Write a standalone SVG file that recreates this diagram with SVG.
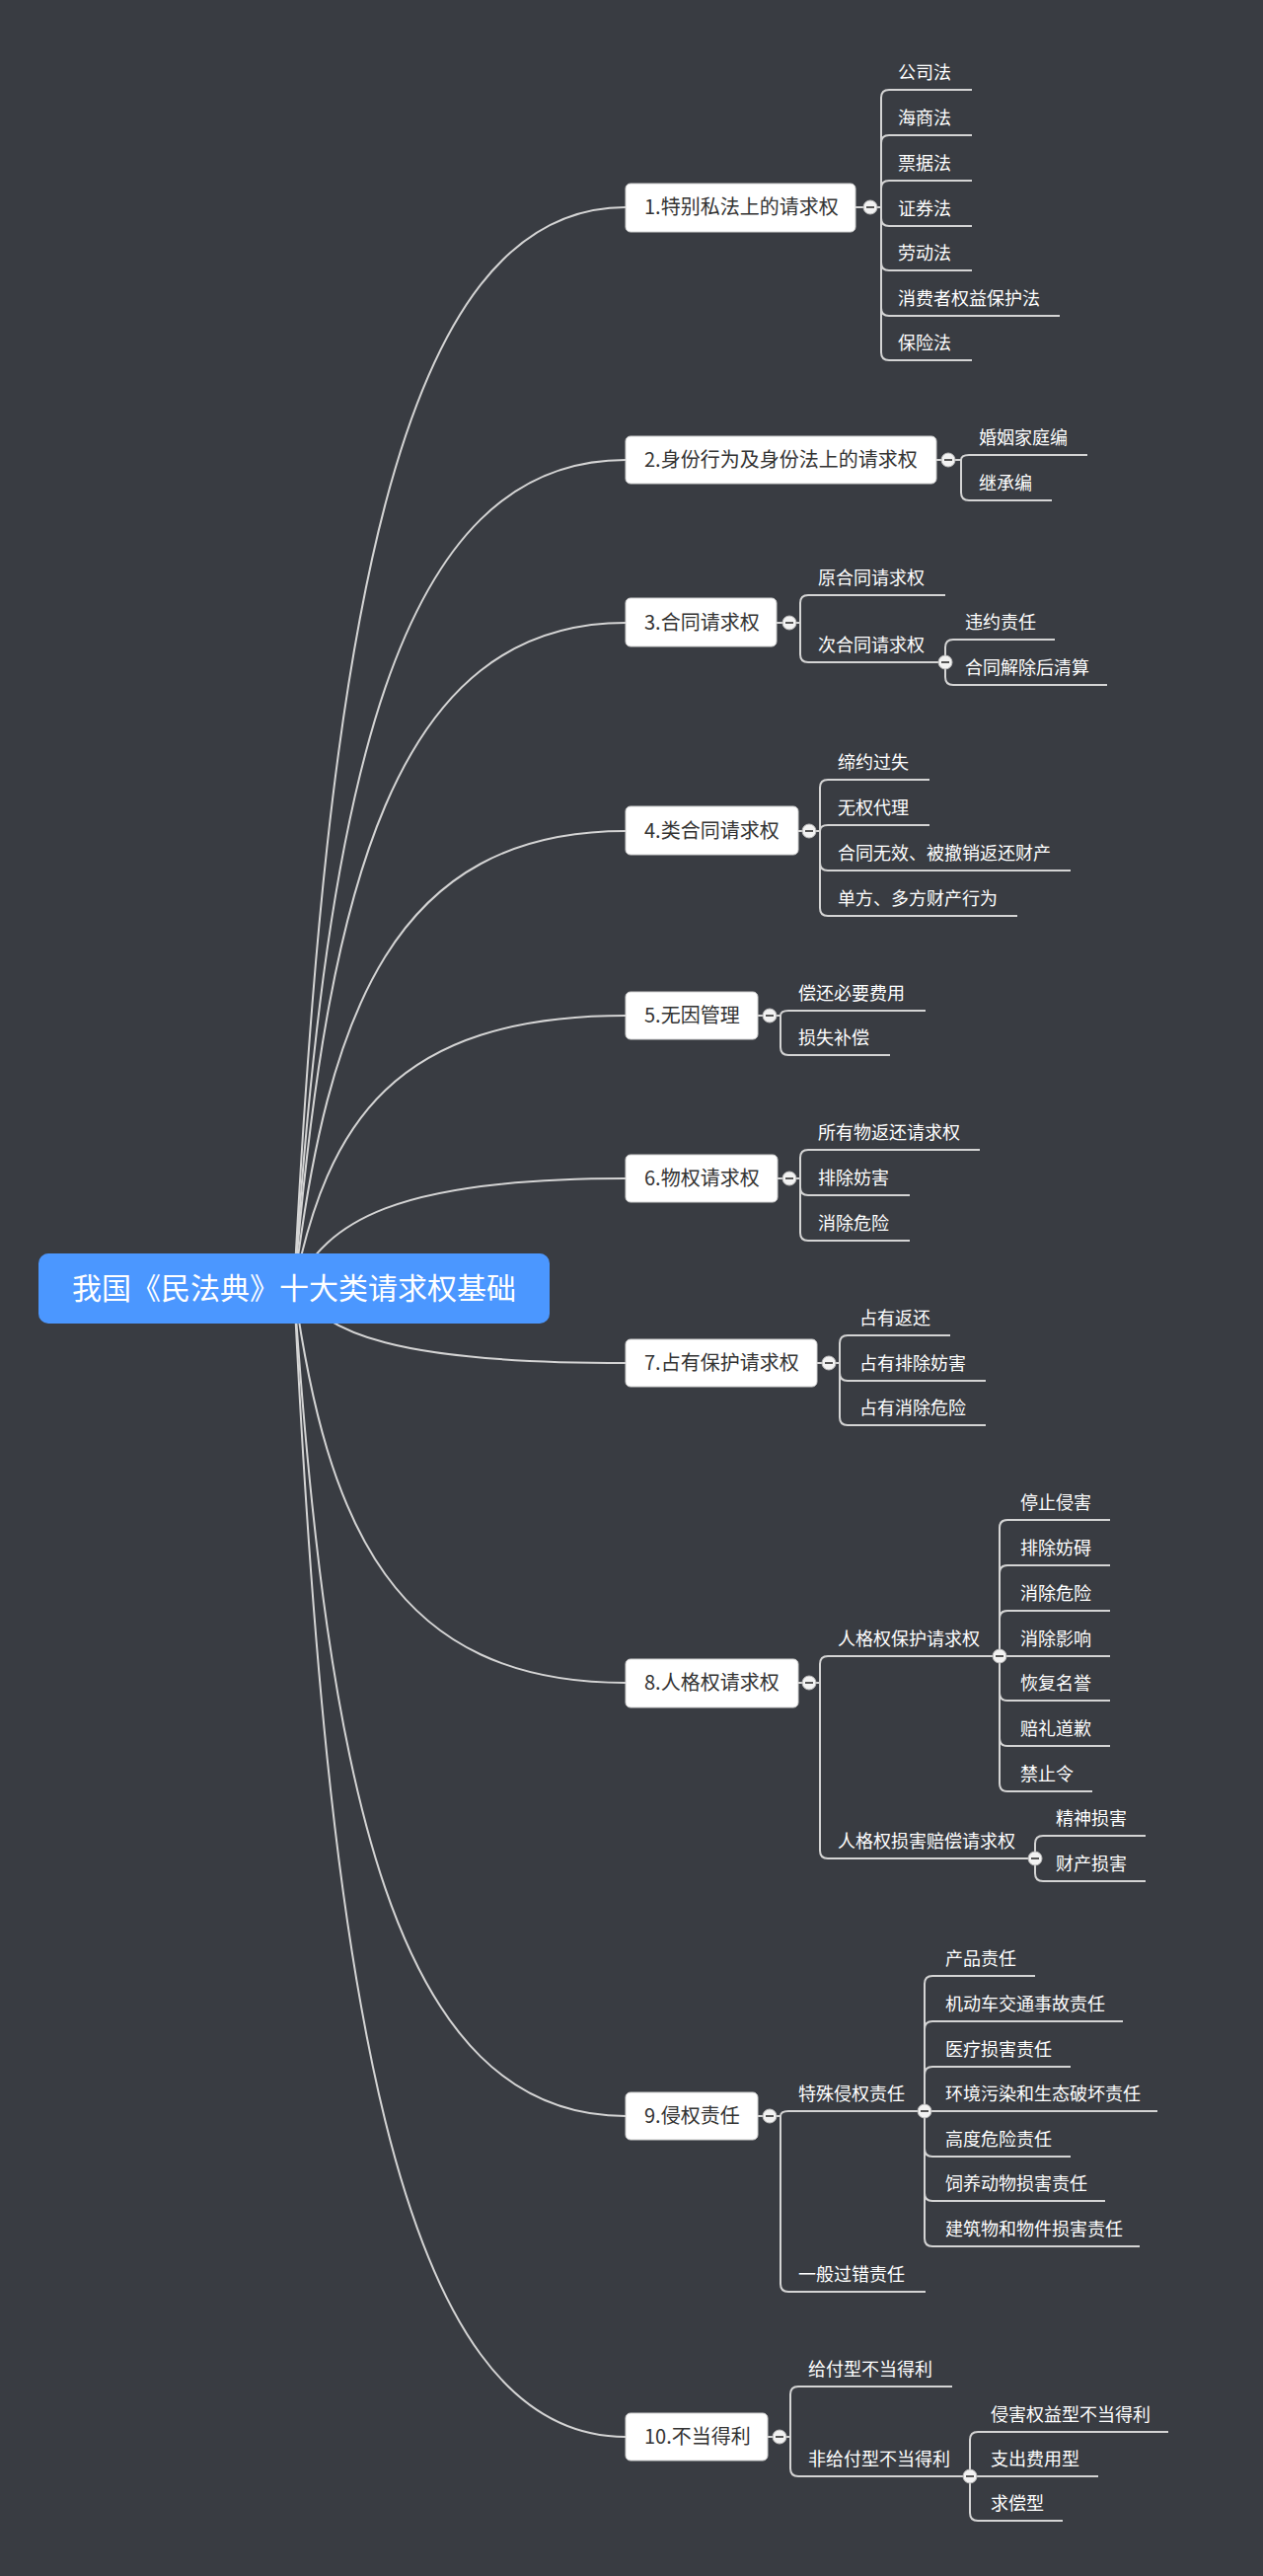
<svg xmlns="http://www.w3.org/2000/svg" width="1280" height="2610" viewBox="0 0 1280 2610">
<style>
.bg{fill:#393c42}
.c{fill:none;stroke:#d4d4d4;stroke-width:2}
.n rect{fill:#fff;stroke:#d0d0d0;stroke-width:1}
.n text{font-family:"Noto Sans CJK SC","Noto Sans",sans-serif;font-size:20px;fill:#333}
.l{font-family:"Noto Sans CJK SC","Noto Sans",sans-serif;font-size:18px;fill:#fff}
.k circle{fill:#f2f2f2;stroke:#bbb;stroke-width:1}
.k line{stroke:#555;stroke-width:2}
</style>
<rect class="bg" x="0" y="0" width="1280" height="2610"/>
<g id="connectors" class="c">
<path d="M298,1305 C331.6,648 398.8,210 634,210"/>
<path d="M298,1305 C331.6,802 398.8,466 634,466"/>
<path d="M298,1305 C331.6,901 398.8,631 634,631"/>
<path d="M298,1305 C331.6,1027 398.8,842 634,842"/>
<path d="M298,1305 C331.6,1139 398.8,1029 634,1029"/>
<path d="M298,1305 C331.6,1238 398.8,1194 634,1194"/>
<path d="M298,1305 C331.6,1351 398.8,1381 634,1381"/>
<path d="M298,1305 C331.6,1545 398.8,1705 634,1705"/>
<path d="M298,1305 C331.6,1808 398.8,2144 634,2144"/>
<path d="M298,1305 C331.6,2003 398.8,2469 634,2469"/>
<!-- 1 -->
<path d="M867,210 H893"/>
<path d="M893,210 V99 Q893,91 901,91 H985"/>
<path d="M893,210 V145 Q893,137 901,137 H985"/>
<path d="M893,210 V191 Q893,183 901,183 H985"/>
<path d="M893,210 V221 Q893,229 901,229 H985"/>
<path d="M893,210 V266 Q893,274 901,274 H985"/>
<path d="M893,210 V312 Q893,320 901,320 H1074"/>
<path d="M893,210 V357 Q893,365 901,365 H985"/>
<!-- 2 -->
<path d="M949,466 H974"/>
<path d="M974,466 Q974,461 982,461 H1102"/>
<path d="M974,466 V499 Q974,507 982,507 H1066"/>
<!-- 3 -->
<path d="M787,631 H811"/>
<path d="M811,631 V611 Q811,603 819,603 H958"/>
<path d="M811,631 V663 Q811,671 819,671 H951"/>
<path d="M958,671 V656 Q958,648 966,648 H1069"/>
<path d="M958,671 V686 Q958,694 966,694 H1122"/>
<!-- 4 -->
<path d="M809,842 H831"/>
<path d="M831,842 V798 Q831,790 839,790 H942"/>
<path d="M831,842 Q831,836 839,836 H942"/>
<path d="M831,842 V874 Q831,882 839,882 H1085"/>
<path d="M831,842 V920 Q831,928 839,928 H1031"/>
<!-- 5 -->
<path d="M768,1029 H791"/>
<path d="M791,1029 Q791,1024 799,1024 H938"/>
<path d="M791,1029 V1061 Q791,1069 799,1069 H902"/>
<!-- 6 -->
<path d="M788,1194 H811"/>
<path d="M811,1194 V1173 Q811,1165 819,1165 H993"/>
<path d="M811,1194 V1203 Q811,1211 819,1211 H922"/>
<path d="M811,1194 V1249 Q811,1257 819,1257 H922"/>
<!-- 7 -->
<path d="M828,1381 H851"/>
<path d="M851,1381 V1361 Q851,1353 859,1353 H963"/>
<path d="M851,1381 V1391 Q851,1399 859,1399 H999"/>
<path d="M851,1381 V1436 Q851,1444 859,1444 H999"/>
<!-- 8 -->
<path d="M809,1705 H831"/>
<path d="M831,1705 V1686 Q831,1678 839,1678 H1006"/>
<path d="M831,1705 V1875 Q831,1883 839,1883 H1042"/>
<path d="M1013,1678 V1548 Q1013,1540 1021,1540 H1125"/>
<path d="M1013,1678 V1594 Q1013,1586 1021,1586 H1125"/>
<path d="M1013,1678 V1640 Q1013,1632 1021,1632 H1125"/>
<path d="M1020,1678 H1125"/>
<path d="M1013,1678 V1715 Q1013,1723 1021,1723 H1125"/>
<path d="M1013,1678 V1761 Q1013,1769 1021,1769 H1125"/>
<path d="M1013,1678 V1807 Q1013,1815 1021,1815 H1107"/>
<path d="M1049,1883 V1868 Q1049,1860 1057,1860 H1161"/>
<path d="M1049,1883 V1898 Q1049,1906 1057,1906 H1161"/>
<!-- 9 -->
<path d="M768,2144 H791"/>
<path d="M791,2144 Q791,2139 799,2139 H930"/>
<path d="M791,2144 V2314 Q791,2322 799,2322 H938"/>
<path d="M937,2139 V2010 Q937,2002 945,2002 H1049"/>
<path d="M937,2139 V2056 Q937,2048 945,2048 H1138"/>
<path d="M937,2139 V2102 Q937,2094 945,2094 H1085"/>
<path d="M944,2139 H1173"/>
<path d="M937,2139 V2177 Q937,2185 945,2185 H1085"/>
<path d="M937,2139 V2222 Q937,2230 945,2230 H1120"/>
<path d="M937,2139 V2268 Q937,2276 945,2276 H1155"/>
<!-- 10 -->
<path d="M778,2469 H801"/>
<path d="M801,2469 V2426 Q801,2418 809,2418 H965"/>
<path d="M801,2469 V2501 Q801,2509 809,2509 H976"/>
<path d="M983,2509 V2472 Q983,2464 991,2464 H1184"/>
<path d="M990,2509 H1113"/>
<path d="M983,2509 V2546 Q983,2554 991,2554 H1077"/>
</g>
<g id="toggles" class="k">
<g><circle cx="882" cy="210" r="7"/><line x1="878" y1="210" x2="886" y2="210"/></g>
<g><circle cx="961" cy="466" r="7"/><line x1="957" y1="466" x2="965" y2="466"/></g>
<g><circle cx="800" cy="631" r="7"/><line x1="796" y1="631" x2="804" y2="631"/></g>
<g><circle cx="958" cy="671" r="7"/><line x1="954" y1="671" x2="962" y2="671"/></g>
<g><circle cx="820" cy="842" r="7"/><line x1="816" y1="842" x2="824" y2="842"/></g>
<g><circle cx="780" cy="1029" r="7"/><line x1="776" y1="1029" x2="784" y2="1029"/></g>
<g><circle cx="800" cy="1194" r="7"/><line x1="796" y1="1194" x2="804" y2="1194"/></g>
<g><circle cx="840" cy="1381" r="7"/><line x1="836" y1="1381" x2="844" y2="1381"/></g>
<g><circle cx="820" cy="1705" r="7"/><line x1="816" y1="1705" x2="824" y2="1705"/></g>
<g><circle cx="1013" cy="1678" r="7"/><line x1="1009" y1="1678" x2="1017" y2="1678"/></g>
<g><circle cx="1049" cy="1883" r="7"/><line x1="1045" y1="1883" x2="1053" y2="1883"/></g>
<g><circle cx="780" cy="2144" r="7"/><line x1="776" y1="2144" x2="784" y2="2144"/></g>
<g><circle cx="937" cy="2139" r="7"/><line x1="933" y1="2139" x2="941" y2="2139"/></g>
<g><circle cx="790" cy="2469" r="7"/><line x1="786" y1="2469" x2="794" y2="2469"/></g>
<g><circle cx="983" cy="2509" r="7"/><line x1="979" y1="2509" x2="987" y2="2509"/></g>
</g>
<g id="root"><rect x="39" y="1270" width="518" height="71" rx="10" fill="#4b97ff"/><text x="298" y="1316" text-anchor="middle" font-family="'Noto Sans CJK SC','Noto Sans',sans-serif" font-size="30" fill="#fff">我国《民法典》十大类请求权基础</text></g>
<g id="n1" class="n"><rect x="634" y="186" width="233" height="49" rx="5"/><text x="653" y="217">1.特别私法上的请求权</text></g>
<g id="n2" class="n"><rect x="634" y="442" width="315" height="48" rx="5"/><text x="653" y="473">2.身份行为及身份法上的请求权</text></g>
<g id="n3" class="n"><rect x="634" y="606" width="153" height="49" rx="5"/><text x="653" y="638">3.合同请求权</text></g>
<g id="n4" class="n"><rect x="634" y="817" width="175" height="49" rx="5"/><text x="653" y="849">4.类合同请求权</text></g>
<g id="n5" class="n"><rect x="634" y="1005" width="134" height="48" rx="5"/><text x="653" y="1036">5.无因管理</text></g>
<g id="n6" class="n"><rect x="634" y="1170" width="154" height="48" rx="5"/><text x="653" y="1201">6.物权请求权</text></g>
<g id="n7" class="n"><rect x="634" y="1357" width="194" height="48" rx="5"/><text x="653" y="1388">7.占有保护请求权</text></g>
<g id="n8" class="n"><rect x="634" y="1681" width="175" height="49" rx="5"/><text x="653" y="1712">8.人格权请求权</text></g>
<g id="n9" class="n"><rect x="634" y="2120" width="134" height="48" rx="5"/><text x="653" y="2151">9.侵权责任</text></g>
<g id="n10" class="n"><rect x="634" y="2445" width="144" height="48" rx="5"/><text x="653" y="2476">10.不当得利</text></g>
<g id="leaves" class="l">
<text x="910" y="80">公司法</text>
<text x="910" y="126">海商法</text>
<text x="910" y="172">票据法</text>
<text x="910" y="218">证券法</text>
<text x="910" y="263">劳动法</text>
<text x="910" y="309">消费者权益保护法</text>
<text x="910" y="354">保险法</text>
<text x="992" y="450">婚姻家庭编</text>
<text x="992" y="496">继承编</text>
<text x="829" y="592">原合同请求权</text>
<text x="829" y="660">次合同请求权</text>
<text x="978" y="637">违约责任</text>
<text x="978" y="683">合同解除后清算</text>
<text x="849" y="779">缔约过失</text>
<text x="849" y="825">无权代理</text>
<text x="849" y="871">合同无效、被撤销返还财产</text>
<text x="849" y="917">单方、多方财产行为</text>
<text x="809" y="1013">偿还必要费用</text>
<text x="809" y="1058">损失补偿</text>
<text x="829" y="1154">所有物返还请求权</text>
<text x="829" y="1200">排除妨害</text>
<text x="829" y="1246">消除危险</text>
<text x="871" y="1342">占有返还</text>
<text x="871" y="1388">占有排除妨害</text>
<text x="871" y="1433">占有消除危险</text>
<text x="849" y="1667">人格权保护请求权</text>
<text x="849" y="1872">人格权损害赔偿请求权</text>
<text x="1034" y="1529">停止侵害</text>
<text x="1034" y="1575">排除妨碍</text>
<text x="1034" y="1621">消除危险</text>
<text x="1034" y="1667">消除影响</text>
<text x="1034" y="1712">恢复名誉</text>
<text x="1034" y="1758">赔礼道歉</text>
<text x="1034" y="1804">禁止令</text>
<text x="1070" y="1849">精神损害</text>
<text x="1070" y="1895">财产损害</text>
<text x="809" y="2128">特殊侵权责任</text>
<text x="809" y="2311">一般过错责任</text>
<text x="958" y="1991">产品责任</text>
<text x="958" y="2037">机动车交通事故责任</text>
<text x="958" y="2083">医疗损害责任</text>
<text x="958" y="2128">环境污染和生态破坏责任</text>
<text x="958" y="2174">高度危险责任</text>
<text x="958" y="2219">饲养动物损害责任</text>
<text x="958" y="2265">建筑物和物件损害责任</text>
<text x="819" y="2407">给付型不当得利</text>
<text x="819" y="2498">非给付型不当得利</text>
<text x="1004" y="2453">侵害权益型不当得利</text>
<text x="1004" y="2498">支出费用型</text>
<text x="1004" y="2543">求偿型</text>
</g>
</svg>
